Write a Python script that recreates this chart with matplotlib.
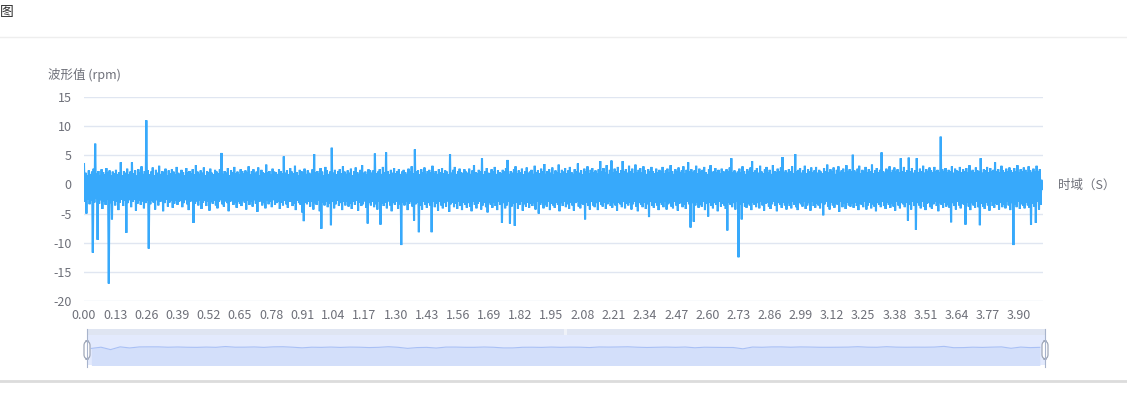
import numpy as np
import matplotlib
matplotlib.use("Agg")
import matplotlib.pyplot as plt
from matplotlib.patches import Rectangle, FancyBboxPatch
from matplotlib.lines import Line2D

plt.rcParams['font.family'] = ['Noto Sans CJK SC', 'DejaVu Sans']
plt.rcParams['path.simplify'] = False

# ---------------- data ----------------
title = "图"
y_name = "波形值 (rpm)"
x_name = "时域（S）"
duration = 4.0
x_tick_values = [0.00, 0.13, 0.26, 0.39, 0.52, 0.65, 0.78, 0.91, 1.04, 1.17,
                 1.30, 1.43, 1.56, 1.69, 1.82, 1.95, 2.08, 2.21, 2.34, 2.47,
                 2.60, 2.73, 2.86, 2.99, 3.12, 3.25, 3.38, 3.51, 3.64, 3.77, 3.90]
x_tick_labels = ["%.2f" % v for v in x_tick_values]
y_ticks = [-20, -15, -10, -5, 0, 5, 10, 15]

# the waveform alternates between these local peaks and troughs (read in order)
wave_peaks = [
    3.5, 2.0, 1.6, 2.4, 1.8, 2.2, 2.7, 7.0, 1.9, 2.3, 1.5, 2.6, 2.1, 1.7, 2.8, 2.0, 2.4, 1.6, 2.2, 1.9,
    2.5, 1.8, 2.1, 3.8, 1.6, 2.3, 2.0, 2.7, 1.7, 2.2, 3.8, 1.9, 2.4, 1.5, 2.6, 2.0, 3.1, 1.8, 2.3, 11.0,
    2.4, 1.7, 2.2, 2.9, 1.6, 2.5, 2.0, 3.2, 1.8, 2.3, 2.1, 2.7, 1.5, 2.4, 1.9, 2.6, 2.2, 1.7, 3.0, 2.0,
    1.8, 2.5, 2.1, 1.6, 2.8, 2.0, 2.3, 1.9, 2.6, 1.7, 3.3, 2.2, 1.8, 2.4, 2.0, 2.9, 1.6, 2.3, 2.1, 2.7,
    2.0, 1.7, 2.5, 2.2, 1.9, 2.6, 5.4, 1.8, 2.3, 2.0, 2.8, 1.6, 2.4, 2.1, 3.0, 1.9, 2.2, 1.7, 2.6, 2.3,
    1.9, 2.4, 2.0, 3.1, 1.7, 2.3, 2.6, 1.8, 2.2, 2.9, 1.6, 2.5, 2.1, 1.9, 3.4, 2.0, 2.3, 1.7, 2.7, 2.2,
    2.1, 1.8, 2.6, 2.3, 1.9, 4.8, 2.0, 2.4, 1.7, 2.8, 2.2, 1.9, 3.2, 2.1, 1.6, 2.5, 2.3, 2.0, 2.7, 1.8,
    2.4, 2.0, 1.7, 2.6, 5.2, 2.1, 2.3, 1.9, 2.8, 2.2, 1.6, 3.0, 2.4, 1.8, 2.2, 6.3, 2.0, 2.5, 1.7, 2.3,
    2.6, 1.9, 3.1, 2.2, 1.8, 2.4, 2.0, 2.7, 1.6, 2.3, 2.9, 2.1, 1.8, 2.5, 3.3, 2.0, 2.2, 1.7, 2.6, 2.4,
    2.0, 2.4, 5.3, 1.9, 2.2, 2.6, 1.8, 3.0, 2.1, 5.5, 2.3, 1.7, 2.5, 2.0, 2.8, 1.9, 2.3, 2.6, 1.8, 2.2,
    2.5, 2.1, 1.8, 2.7, 2.3, 3.1, 1.9, 6.0, 2.2, 2.4, 1.7, 2.6, 2.0, 2.9, 1.8, 2.3, 2.5, 2.1, 3.2, 1.9,
    2.3, 1.8, 2.6, 2.1, 2.8, 1.9, 2.4, 2.2, 1.7, 5.2, 2.0, 2.5, 3.0, 1.8, 2.3, 2.7, 2.1, 1.9, 2.6, 2.2,
    2.0, 2.7, 1.8, 2.4, 3.3, 2.1, 1.9, 2.5, 2.2, 4.5, 1.7, 2.3, 2.8, 2.0, 1.9, 2.6, 2.2, 3.0, 1.8, 2.4,
    2.1, 1.9, 2.5, 2.2, 2.8, 4.2, 1.8, 2.3, 2.0, 2.6, 3.1, 1.9, 2.4, 2.1, 2.7, 1.7, 2.3, 2.9, 2.0, 2.2,
    2.5, 1.8, 3.2, 2.1, 2.4, 1.9, 2.7, 2.2, 3.5, 1.8, 2.3, 2.6, 2.0, 2.9, 1.7, 2.4, 2.1, 3.4, 1.9, 2.5,
    2.2, 2.8, 1.9, 2.4, 3.0, 2.1, 1.8, 2.6, 2.3, 3.6, 2.0, 2.4, 1.7, 2.7, 2.2, 3.1, 1.9, 2.5, 2.8, 2.1,
    2.4, 1.9, 2.6, 4.0, 2.2, 2.8, 2.0, 3.3, 1.8, 2.5, 4.1, 2.1, 2.7, 2.3, 3.0, 1.9, 2.4, 4.0, 2.2, 2.6,
    2.0, 3.2, 2.3, 2.7, 1.9, 3.4, 2.1, 2.5, 2.8, 2.0, 3.1, 2.4, 1.8, 2.6, 2.2, 3.0, 2.3, 1.9, 2.7, 2.1,
    2.5, 2.2, 3.0, 1.9, 2.4, 2.7, 2.0, 3.3, 2.3, 1.8, 2.6, 2.2, 2.9, 2.0, 2.4, 3.1, 1.9, 2.5, 3.8, 2.2,
    2.6, 2.0, 2.4, 3.2, 1.9, 2.7, 2.2, 2.5, 3.0, 2.1, 1.8, 2.6, 3.3, 2.0, 2.3, 2.8, 2.1, 2.5, 1.9, 2.7,
    2.3, 2.0, 2.6, 2.2, 2.9, 4.5, 2.1, 2.4, 1.9, 2.2, 2.7, 2.0, 3.1, 2.3, 1.8, 2.6, 2.2, 2.9, 4.0, 2.1,
    2.4, 2.8, 2.0, 3.2, 2.2, 1.9, 2.6, 3.0, 2.1, 2.5, 1.8, 3.3, 2.3, 2.0, 2.7, 2.2, 2.9, 4.7, 2.1, 2.4,
    2.0, 2.6, 2.3, 3.1, 1.9, 5.2, 2.2, 2.5, 2.8, 2.0, 2.4, 3.2, 1.9, 2.6, 2.2, 2.9, 2.1, 2.4, 3.0, 2.0,
    2.5, 2.2, 1.9, 2.8, 2.3, 3.4, 2.0, 2.6, 2.2, 2.9, 1.8, 2.5, 3.1, 2.1, 2.4, 2.7, 2.0, 3.3, 2.2, 2.6,
    2.2, 5.1, 2.4, 2.0, 2.7, 3.2, 1.9, 2.5, 2.2, 3.0, 2.1, 2.6, 2.3, 3.4, 1.9, 2.4, 2.8, 2.1, 2.5, 5.5,
    2.3, 2.0, 2.7, 2.4, 3.1, 2.1, 2.5, 2.9, 2.2, 2.6, 2.0, 4.5, 2.3, 3.0, 2.1, 2.4, 4.6, 2.2, 2.8, 2.0,
    2.4, 4.5, 2.1, 2.7, 2.3, 3.2, 2.0, 2.6, 2.2, 2.9, 2.4, 2.1, 3.0, 2.3, 2.5, 2.0, 8.2, 2.6, 2.2, 2.8,
    2.1, 2.5, 2.3, 3.1, 2.0, 2.7, 2.4, 2.2, 3.0, 2.1, 2.6, 2.3, 2.8, 2.0, 3.3, 2.2, 2.5, 2.1, 2.9, 2.4,
    2.2, 4.5, 2.0, 2.6, 2.4, 3.0, 2.1, 2.8, 2.3, 2.5, 3.8, 2.2, 2.6, 2.0, 3.2, 2.4, 2.1, 2.7, 2.3, 2.9,
    2.4, 2.1, 2.8, 2.3, 3.3, 2.0, 2.6, 2.2, 2.9, 2.5, 2.1, 3.1, 2.4, 2.0, 2.7, 2.3, 3.2, 2.2, 2.6, 0.8,
]
wave_troughs = [
    -3.0, -5.0, -2.6, -3.4, -2.8, -11.7, -3.1, -2.5, -9.5, -3.3, -2.7, -4.2, -2.9, -3.5, -2.6, -17.0, -3.2, -6.0, -2.8, -3.6,
    -2.9, -4.4, -3.1, -2.6, -3.7, -2.8, -8.3, -3.2, -2.7, -3.9, -3.0, -2.6, -4.5, -3.3, -2.8, -3.5, -2.9, -4.1, -3.2, -2.7,
    -11.0, -3.4, -2.8, -3.1, -4.3, -2.7, -3.6, -3.0, -2.9, -4.6, -3.2, -2.6, -3.8, -3.1, -2.8, -4.0, -3.3, -2.7, -3.5, -3.0,
    -2.8, -3.9, -3.2, -2.7, -3.4, -4.4, -3.0, -2.8, -6.6, -3.3, -2.9, -3.6, -2.7, -4.2, -3.1, -2.8, -3.7, -3.0, -4.5, -2.9,
    -3.3, -2.8, -3.6, -4.1, -3.0, -2.7, -3.4, -3.8, -2.9, -3.2, -4.6, -3.0, -2.8, -3.5, -3.1, -4.0, -2.9, -3.3, -3.7, -2.8,
    -3.1, -4.3, -2.8, -3.5, -3.0, -3.8, -2.7, -3.3, -4.7, -3.0, -2.9, -3.6, -3.2, -4.1, -2.8, -3.4, -3.0, -3.9, -2.7, -3.5,
    -3.2, -2.9, -4.2, -3.1, -3.6, -2.8, -3.4, -4.0, -3.0, -2.9, -3.7, -3.3, -4.4, -2.8, -3.2, -3.5, -4.8, -6.3, -3.1, -3.4,
    -3.0, -3.8, -2.9, -4.3, -3.2, -3.5, -2.8, -4.6, -7.6, -3.1, -3.6, -2.9, -3.9, -3.3, -7.0, -3.0, -4.1, -3.4, -2.8, -3.7,
    -3.2, -4.4, -3.0, -3.6, -2.9, -3.8, -3.3, -4.2, -3.0, -3.5, -2.8, -4.5, -3.1, -3.7, -3.4, -2.9, -4.0, -6.7, -3.2, -3.6,
    -3.0, -3.9, -3.4, -4.3, -2.9, -6.9, -3.3, -3.7, -3.1, -4.1, -2.9, -3.6, -4.6, -3.2, -3.5, -3.0, -4.2, -3.4, -10.4, -3.1,
    -3.6, -3.0, -4.4, -3.3, -2.9, -3.8, -6.2, -3.4, -3.1, -8.2, -3.7, -4.3, -3.0, -3.5, -4.0, -3.2, -3.6, -8.2, -3.0, -3.9,
    -3.3, -4.5, -3.0, -3.6, -4.1, -3.2, -3.8, -2.9, -4.7, -3.4, -3.1, -3.9, -3.3, -4.2, -3.0, -3.7, -4.4, -3.1, -3.5, -4.0,
    -3.2, -3.8, -4.6, -3.0, -3.5, -4.1, -3.3, -3.0, -4.3, -3.6, -3.1, -3.9, -4.8, -3.2, -3.5, -4.0, -3.1, -3.7, -4.4, -3.0,
    -3.5, -6.6, -3.2, -4.1, -3.6, -3.0, -6.7, -3.8, -3.3, -7.1, -3.1, -4.2, -3.5, -3.0, -4.5, -3.4, -3.8, -3.1, -4.0, -3.3,
    -3.7, -3.2, -4.3, -3.0, -5.0, -3.5, -3.1, -4.1, -3.4, -3.8, -3.0, -4.4, -3.3, -3.6, -4.0, -3.1, -3.5, -4.6, -3.2, -3.7,
    -3.0, -3.9, -3.4, -4.2, -3.1, -3.6, -4.5, -3.2, -3.0, -3.8, -4.1, -3.3, -3.5, -6.0, -3.1, -3.7, -4.3, -3.0, -3.6, -3.9,
    -3.2, -4.4, -3.0, -3.5, -3.8, -3.1, -4.2, -3.4, -3.0, -3.7, -4.0, -3.2, -3.6, -4.5, -3.1, -3.4, -3.9, -3.0, -4.1, -3.3,
    -3.6, -3.1, -4.3, -3.4, -3.0, -3.8, -4.6, -3.2, -3.5, -3.9, -3.1, -4.2, -3.4, -5.6, -3.0, -3.7, -4.0, -3.2, -3.6, -4.4,
    -3.1, -3.5, -3.9, -3.0, -4.3, -3.4, -3.2, -3.8, -4.1, -3.0, -3.6, -4.5, -3.3, -3.1, -3.9, -3.5, -4.2, -3.0, -3.4, -7.4,
    -3.2, -6.4, -3.6, -3.1, -4.0, -3.4, -3.8, -3.0, -4.4, -3.3, -5.5, -3.1, -3.7, -4.1, -3.2, -3.5, -4.6, -3.0, -3.8, -3.3,
    -3.6, -4.2, -7.9, -3.1, -3.5, -3.9, -3.2, -4.3, -3.0, -12.5, -3.4, -6.0, -3.1, -3.8, -4.0, -3.3, -3.6, -4.4, -3.1, -3.5,
    -3.9, -3.2, -4.1, -3.0, -3.6, -4.5, -3.3, -3.1, -3.8, -4.2, -3.4, -3.0, -3.7, -4.6, -3.2, -3.5, -4.0, -3.1, -3.6, -4.3,
    -3.2, -3.7, -4.1, -3.0, -3.5, -3.9, -4.4, -3.1, -3.4, -3.8, -3.0, -4.2, -3.6, -3.2, -4.5, -3.0, -3.7, -4.0, -3.3, -3.6,
    -4.1, -3.2, -5.3, -3.4, -3.0, -3.8, -4.3, -3.1, -3.6, -4.0, -3.2, -3.5, -4.7, -3.0, -3.9, -3.3, -4.2, -3.1, -3.6, -3.8,
    -3.3, -4.0, -3.1, -3.7, -4.4, -3.2, -3.5, -3.9, -3.0, -4.3, -3.6, -3.1, -4.1, -3.4, -3.8, -4.6, -3.2, -3.5, -3.9, -3.0,
    -3.7, -4.2, -3.1, -3.5, -4.0, -3.3, -3.8, -4.5, -3.0, -3.6, -4.1, -3.2, -3.4, -3.9, -3.1, -6.2, -3.5, -4.3, -3.0, -3.7,
    -7.8, -3.2, -3.6, -4.1, -3.0, -3.8, -4.4, -3.3, -3.1, -3.9, -4.2, -3.4, -3.0, -3.7, -4.6, -3.2, -3.5, -4.0, -3.1, -3.8,
    -3.4, -4.0, -6.5, -3.2, -3.7, -4.3, -3.0, -3.6, -4.1, -3.3, -3.5, -6.9, -3.1, -3.8, -4.4, -3.2, -3.6, -4.0, -3.0, -3.9,
    -7.0, -3.3, -3.8, -4.2, -3.1, -3.6, -4.5, -3.0, -3.7, -4.0, -3.3, -3.5, -4.3, -3.1, -3.9, -3.4, -4.1, -3.0, -3.6, -4.4,
    -3.2, -10.4, -3.5, -3.9, -3.0, -4.2, -3.4, -3.7, -4.1, -3.1, -3.6, -4.0, -6.9, -3.3, -3.8, -6.6, -3.0, -4.3, -3.5, -0.8,
]

# ---------------- styles ----------------
W, H = 1127, 400
line_color = "#37a9fb"
text_color = "#6e7079"
grid_color = "#e0e6f1"

# samples in time order: peak, trough, peak, trough, ...
wave = np.column_stack([wave_peaks, wave_troughs]).ravel()
t = np.linspace(0, duration, len(wave), endpoint=False)

fig = plt.figure(figsize=(W / 100, H / 100), dpi=100)

def fx(px):
    return px / W

def fy(py):
    return 1 - py / H

# main axes: plot area x 84..1043, y 97..301
ax = fig.add_axes([fx(84), fy(301), fx(1043) - fx(84), fy(97) - fy(301)])
ax.plot(t, wave, color=line_color, lw=1.5, solid_joinstyle='miter')
ax.set_xlim(0, duration)
ax.set_ylim(-20, 15)
ax.set_yticks(y_ticks)
ax.set_yticklabels([str(v) for v in y_ticks])
ax.set_xticks(x_tick_values)
ax.set_xticklabels(x_tick_labels)
ax.tick_params(axis='both', length=0, colors=text_color, labelsize=9)
ax.tick_params(axis='y', pad=9)
ax.tick_params(axis='x', pad=6)
ax.grid(axis='y', color=grid_color, lw=1)
ax.set_axisbelow(True)
for s in ax.spines.values():
    s.set_visible(False)

# axis names and title
fig.text(fx(48), fy(75), y_name, color=text_color, fontsize=9, ha='left', va='center')
fig.text(fx(1058), fy(185), x_name, color=text_color, fontsize=9, ha='left', va='center')
fig.text(fx(0), fy(12), title, color="#333333", fontsize=10, ha='left', va='center')

# separator lines
fig.add_artist(Line2D([0, 1], [fy(37), fy(37)], color="#eeeeee", lw=1, transform=fig.transFigure))
fig.add_artist(Line2D([0, 1], [fy(381), fy(381)], color="#dcdcdc", lw=2, transform=fig.transFigure))

# data zoom slider
sx0, sx1 = 87, 1045
fig.add_artist(Rectangle((fx(sx0), fy(335)), fx(sx1) - fx(sx0), fy(329) - fy(335),
                         transform=fig.transFigure, facecolor="#dfe5f2", edgecolor='none'))
sax = fig.add_axes([fx(sx0), fy(365), fx(sx1) - fx(sx0), fy(335) - fy(365)])
sax.set_facecolor("#e3eafd")
shadow = wave.reshape(-1, 12).mean(axis=1)
ts = t.reshape(-1, 12).mean(axis=1)
sax.fill_between(ts, shadow, -40, color="#d3dffa", lw=0)
sax.plot(ts, shadow, color="#a9c0f5", lw=0.8)
sax.set_xlim(0, duration)
sax.set_ylim(-10.1, 5.9)
sax.set_xticks([])
sax.set_yticks([])
for s in sax.spines.values():
    s.set_visible(False)
# grip marks on move handle
fig.text(fx(566), fy(332), "|||", color="#ffffff", fontsize=4, ha='center', va='center', fontweight='bold')
# handle lines and handles
for hx in (sx0, sx1):
    fig.add_artist(Line2D([fx(hx), fx(hx)], [fy(329), fy(367)], color="#a8b4cc", lw=0.8,
                          transform=fig.transFigure))
    fig.add_artist(FancyBboxPatch((fx(hx - 3), fy(359)), fx(6), fy(341) - fy(359),
                                  boxstyle="round,pad=0,rounding_size=0.004",
                                  transform=fig.transFigure, facecolor="white",
                                  edgecolor="#a0a8b8", lw=0.9, mutation_aspect=2.8))

fig.savefig("out.png", dpi=100)
